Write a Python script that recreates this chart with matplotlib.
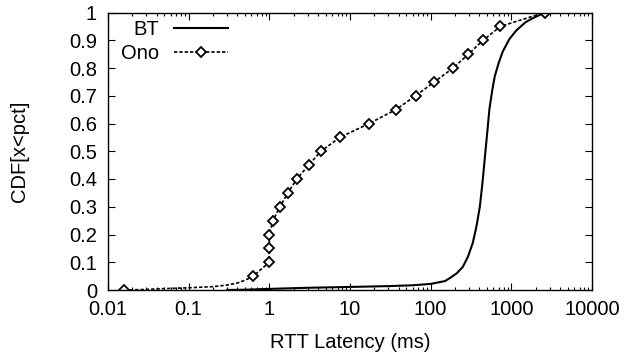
import matplotlib
matplotlib.use("Agg")
import matplotlib.pyplot as plt
import numpy as np
from matplotlib.ticker import FixedLocator, LogLocator, NullFormatter

plt.rcParams['font.family'] = ['Liberation Sans', 'DejaVu Sans']

# BT CDF (solid line)
bt_x = [0.3, 0.5, 1, 3, 10, 30, 60, 100, 150, 173, 210, 250, 290, 333, 370, 407,
        440, 467, 500, 534, 580, 623, 700, 785, 950, 1150, 1500, 1860, 2600]
bt_y = [0.0, 0.001, 0.004, 0.008, 0.011, 0.014, 0.017, 0.022, 0.032, 0.043, 0.06, 0.083,
        0.12, 0.17, 0.23, 0.30, 0.39, 0.47, 0.56, 0.65, 0.72, 0.77, 0.82, 0.86, 0.905,
        0.935, 0.965, 0.98, 1.0]

# Ono CDF marker points
ono_x = [0.016, 0.63, 1.0, 1.0, 1.0, 1.11, 1.35, 1.70, 2.19, 3.07, 4.36, 7.5, 17.3,
         37, 65, 111, 190, 294, 447, 733, 2600]
ono_y = [0.0, 0.05, 0.10, 0.15, 0.20, 0.25, 0.30, 0.35, 0.40, 0.45, 0.50, 0.55, 0.60,
         0.65, 0.70, 0.75, 0.80, 0.85, 0.90, 0.95, 1.0]

# Ono extra line points in the low tail
ono_tail_x = [0.03, 0.05, 0.1, 0.2, 0.3, 0.4, 0.5]
ono_tail_y = [0.002, 0.005, 0.008, 0.012, 0.018, 0.025, 0.035]

x_ticks = [0.01, 0.1, 1, 10, 100, 1000, 10000]
x_tick_labels = ['0.01', '0.1', '1', '10', '100', '1000', '10000']
y_ticks = [0, 0.1, 0.2, 0.3, 0.4, 0.5, 0.6, 0.7, 0.8, 0.9, 1]
y_tick_labels = ['0', '0.1', '0.2', '0.3', '0.4', '0.5', '0.6', '0.7', '0.8', '0.9', '1']

FS = 14.5

fig = plt.figure(figsize=(6.28, 3.6), dpi=100)
ax = fig.add_axes([108/628, 1-290/360, (592-108)/628, (290-12.5)/360])

ax.plot(bt_x, bt_y, color='black', lw=1.5, label='BT')

line_pts = sorted(zip(ono_x + ono_tail_x, ono_y + ono_tail_y), key=lambda p: (p[0], p[1]))
lx = [p[0] for p in line_pts]
ly = [p[1] for p in line_pts]
ax.plot(lx, ly, color='black', lw=1.2, ls=(0, (2, 1.2)))
ax.plot(ono_x, ono_y, ls='none', marker='D', ms=5.5, mfc='white', mec='black', mew=1.3)
ono_handle, = ax.plot([], [], color='black', lw=1.2, ls=(0, (2, 1.2)), marker='D',
                      ms=5.5, mfc='white', mec='black', mew=1.3, label='Ono')

ax.set_xscale('log')
ax.set_xlim(0.01, 10000)
ax.set_ylim(0, 1)
ax.xaxis.set_major_locator(FixedLocator(x_ticks))
ax.set_xticklabels(x_tick_labels)
ax.xaxis.set_minor_locator(LogLocator(base=10, subs=np.arange(2, 10), numticks=20))
ax.xaxis.set_minor_formatter(NullFormatter())
ax.set_yticks(y_ticks)
ax.set_yticklabels(y_tick_labels)

ax.tick_params(which='both', direction='in', top=True, right=True, labelsize=FS,
               width=0.8, color='black')
ax.tick_params(which='major', length=5)
ax.tick_params(axis='y', which='major', pad=8)
ax.tick_params(axis='x', which='major', pad=7)
ax.tick_params(which='minor', length=2.5)
for s in ax.spines.values():
    s.set_linewidth(1.0)

ax.set_xlabel('RTT Latency (ms)', fontsize=FS, labelpad=10)
ax.set_ylabel('CDF[x<pct]', fontsize=FS, labelpad=29)

handles = [ax.lines[0], ono_handle]
leg = ax.legend(handles=handles, labels=['BT', 'Ono'], loc='upper left', frameon=False,
                markerfirst=False, fontsize=FS, handlelength=2.7, handletextpad=0.7,
                borderaxespad=0.0, borderpad=0.3, labelspacing=0.25,
                bbox_to_anchor=(0.015, 0.995))
for t in leg.get_texts():
    t.set_ha('right')

fig.savefig('out.png', dpi=100)
